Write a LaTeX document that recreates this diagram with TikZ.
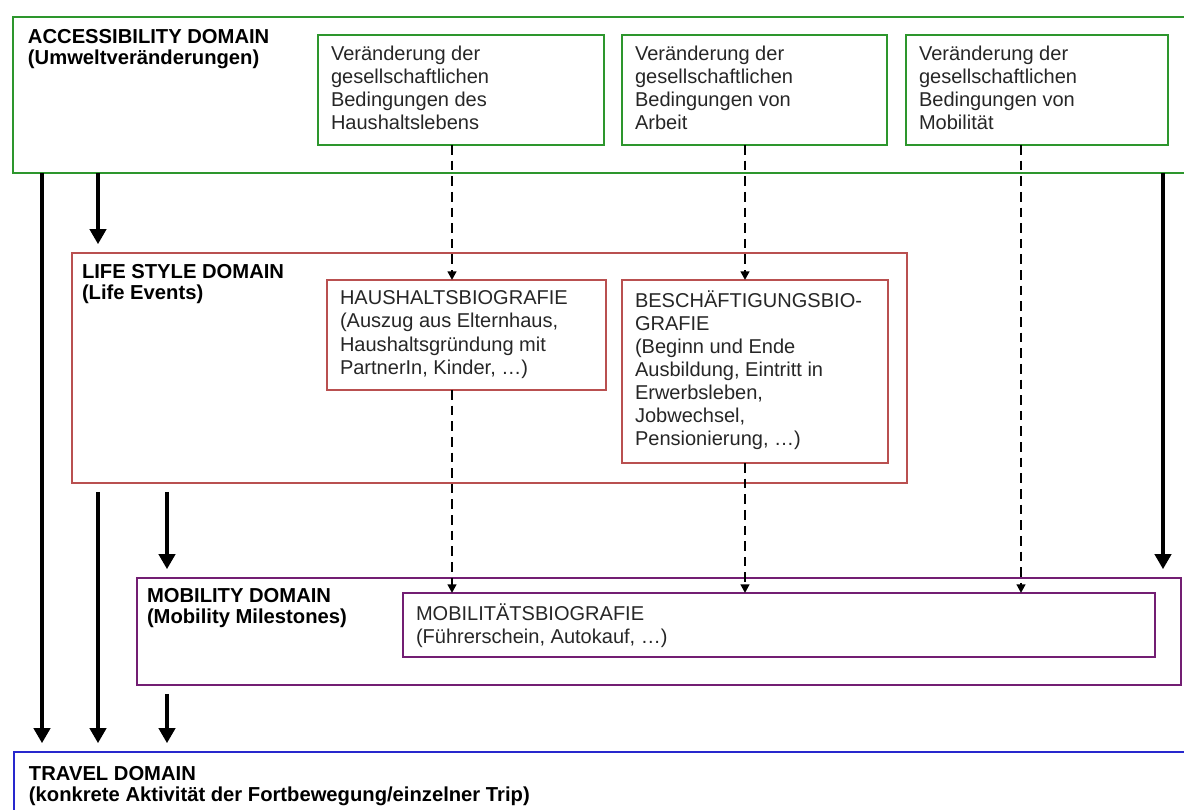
\documentclass[tikz,border=0pt]{standalone}
\usepackage{fontspec}
\setmainfont{Liberation Sans}
\usetikzlibrary{arrows.meta,fit}
\definecolor{accgreen}{RGB}{45,150,45}
\definecolor{lifered}{RGB}{185,80,80}
\definecolor{mobpurple}{RGB}{115,30,115}
\definecolor{travblue}{RGB}{40,40,205}

\begin{document}
\begin{tikzpicture}[x=0.02cm, y=-0.02cm,
	every node/.style={inner sep=0pt, outer sep=0pt},
	dombox/.style={draw=#1, line width=1.2pt},
	subbox/.style={draw=#1, line width=1.5pt},
	head/.style={anchor=north west, align=left, font=\fontsize{11.5}{11.9}\selectfont\bfseries},
	body/.style={anchor=north west, align=left, text=black!85, font=\fontsize{11.4}{13.1}\selectfont},
	flow/.style={-{Triangle[width=0.32cm,length=0.3cm]}, line width=2.4pt, shorten >=5pt},
	dashflow/.style={-{Triangle[width=0.17cm,length=0.17cm]}, line width=1.4pt, dash pattern=on 5.5pt off 3.4pt}]
	\useasboundingbox (0,0) rectangle (1184,810);
	
	\node[dombox=accgreen, fit={(13,17) (1194,173)}] (acc) {};
	\node[subbox=accgreen, fit={(318,35) (604,145)}] (g1) {};
	\node[subbox=accgreen, fit={(622,35) (887,145)}] (g2) {};
	\node[subbox=accgreen, fit={(906,35) (1168,145)}] (g3) {};
	
	\node[dombox=lifered, fit={(72,253) (907,483)}] (life) {};
	\node[subbox=lifered, fit={(327,280) (606,390)}] (r1) {};
	\node[subbox=lifered, fit={(622,280) (888,463)}] (r2) {};
	
	\node[dombox=mobpurple, fit={(137,578) (1181,685)}] (mob) {};
	\node[subbox=mobpurple, fit={(403,593) (1155,657)}] (m1) {};
	
	\node[dombox=travblue, fit={(14,752) (1194,830)}] (travel) {};
	
	\node[head] (acct) at ([shift={(15,12)}]acc.north west) {ACCESSIBILITY DOMAIN\\(Umweltveränderungen)};
	\node[head] (lifet) at ([shift={(10,11)}]life.north west) {LIFE STYLE DOMAIN\\(Life Events)};
	\node[head] (mobt) at ([shift={(10,10)}]mob.north west) {MOBILITY DOMAIN\\(Mobility Milestones)};
	\node[head] (travelt) at ([shift={(15,14)}]travel.north west) {TRAVEL DOMAIN\\(konkrete Aktivität der Fortbewegung/einzelner Trip)};
	
	\node[body] (g1t) at ([shift={(13,11)}]g1.north west) {Veränderung der\\gesellschaftlichen\\Bedingungen des\\Haushaltslebens};
	\node[body] (g2t) at ([shift={(13,11)}]g2.north west) {Veränderung der\\gesellschaftlichen\\Bedingungen von\\Arbeit};
	\node[body] (g3t) at ([shift={(13,11)}]g3.north west) {Veränderung der\\gesellschaftlichen\\Bedingungen von\\Mobilität};
	\node[body] (r1t) at ([shift={(13,11)}]r1.north west) {HAUSHALTSBIOGRAFIE\\(Auszug aus Elternhaus,\\Haushaltsgründung mit\\PartnerIn, Kinder, …)};
	\node[body] (r2t) at ([shift={(13,11)}]r2.north west) {BESCHÄFTIGUNGSBIO-\\GRAFIE\\(Beginn und Ende\\Ausbildung, Eintritt in\\Erwerbsleben,\\Jobwechsel,\\Pensionierung, …)};
	\node[body] (m1t) at ([shift={(13,11)}]m1.north west) {MOBILITÄTSBIOGRAFIE\\(Führerschein, Autokauf, …)};
	
	\coordinate (c1) at (42,0);
	\coordinate (c2) at (98,0);
	\coordinate (c3) at (167,0);
	\coordinate (c4) at (1163,0);
	\coordinate (d1) at (452,0);
	\coordinate (d2) at (745,0);
	\coordinate (d3) at (1021,0);
	
	\draw[flow] (acc.south -| c1) -- (travel.north -| c1);
	\draw[flow] (acc.south -| c2) -- (life.north -| c2);
	\draw[flow] ([yshift=-5pt]life.south -| c2) -- (travel.north -| c2);
	\draw[flow] ([yshift=-5pt]life.south -| c3) -- (mob.north -| c3);
	\draw[flow] ([yshift=-5pt]mob.south -| c3) -- (travel.north -| c3);
	\draw[flow] (acc.south -| c4) -- (mob.north -| c4);
	
	\draw[dashflow] (g1.south -| d1) -- (r1.north -| d1);
	\draw[dashflow] (r1.south -| d1) -- (m1.north -| d1);
	\draw[dashflow] (g2.south -| d2) -- (r2.north -| d2);
	\draw[dashflow] (r2.south -| d2) -- (m1.north -| d2);
	\draw[dashflow] (g3.south -| d3) -- (m1.north -| d3);
\end{tikzpicture}
\end{document}
